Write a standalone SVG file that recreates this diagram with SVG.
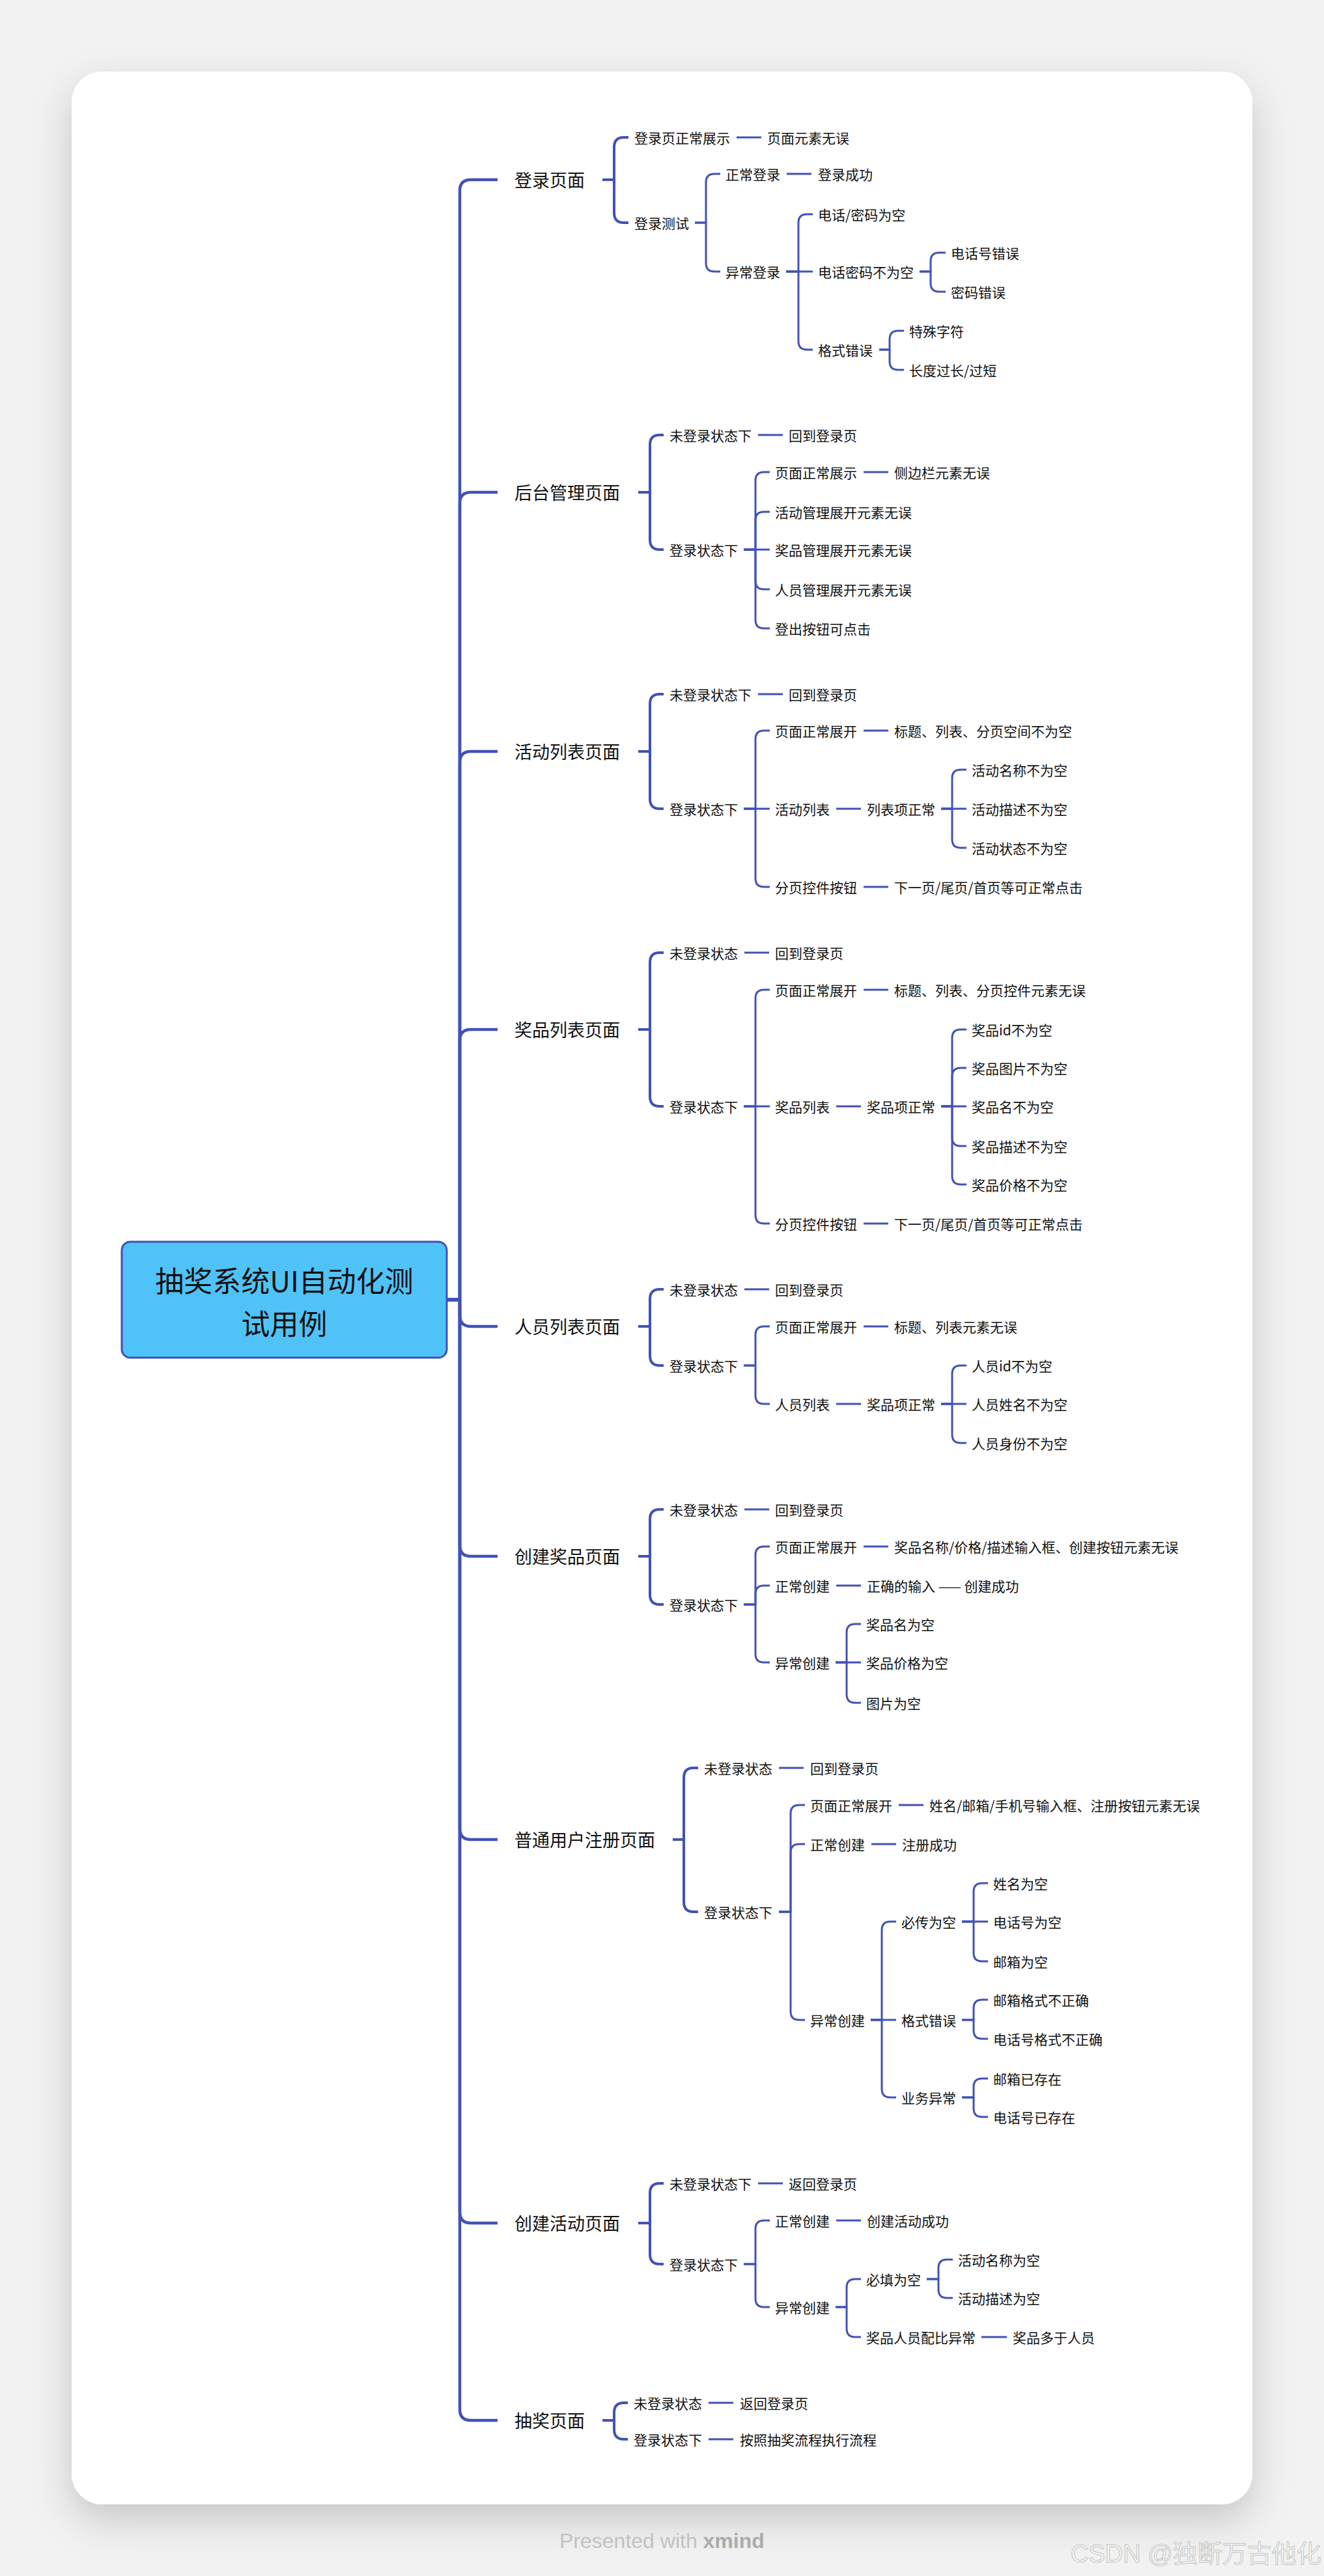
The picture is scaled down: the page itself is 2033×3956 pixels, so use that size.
<svg xmlns="http://www.w3.org/2000/svg" width="2033" height="3956" viewBox="0 0 2033 3956">
<defs>
<style>
.ln{fill:none;stroke:#4152b6;stroke-linejoin:round}
.c0{stroke-width:4.5}
.c1{stroke-width:4}
.c2{stroke-width:3}
text{font-family:"Noto Sans CJK SC","Noto Sans",sans-serif;fill:#111}
.l1{font-size:27px}
.t{font-size:21px}
.root{font-size:44px}
.pw{font-family:"Liberation Sans",Arial,sans-serif;font-size:32px;fill:#c2c2c2}
.xm{font-weight:bold;fill:#ababab}
.wm{font-family:"Liberation Sans","Noto Sans CJK SC",sans-serif;font-size:38px;fill:#f7f7f7;stroke:#c4c4c4;stroke-width:1}
</style>
<filter id="sh" x="-10%" y="-5%" width="120%" height="110%">
<feDropShadow dx="0" dy="24" stdDeviation="30" flood-color="#000" flood-opacity="0.18"/>
</filter>
</defs>
<rect x="0" y="0" width="2033" height="3956" fill="#f2f2f2"/>
<rect x="110" y="110" width="1813" height="3736" rx="47" fill="#ffffff" filter="url(#sh)"/>

<g id="connectors" class="ln">
<g class="c0">
<path d="M686 1996H706V293Q706 276 723 276H764"/>
<path d="M686 1996H706V773Q706 756 723 756H764"/>
<path d="M686 1996H706V1171Q706 1154 723 1154H764"/>
<path d="M686 1996H706V1598Q706 1581 723 1581H764"/>
<path d="M686 1996H706V2020Q706 2037 723 2037H764"/>
<path d="M686 1996H706V2373Q706 2390 723 2390H764"/>
<path d="M686 1996H706V2808Q706 2825 723 2825H764"/>
<path d="M686 1996H706V3397Q706 3414 723 3414H764"/>
<path d="M686 1996H706V3700Q706 3717 723 3717H764"/>
</g>
<g class="c1">
<path d="M925 276H943V226Q943 211 958 211H965"/>
<path d="M925 276H943V327Q943 342 958 342H965"/>
<path d="M980 756H998V683Q998 668 1013 668H1019"/>
<path d="M980 756H998V829Q998 844 1013 844H1019"/>
<path d="M980 1154H998V1081Q998 1066 1013 1066H1019"/>
<path d="M980 1154H998V1227Q998 1242 1013 1242H1019"/>
<path d="M980 1581H998V1478Q998 1463 1013 1463H1019"/>
<path d="M980 1581H998V1684Q998 1699 1013 1699H1019"/>
<path d="M980 2037H998V1995Q998 1980 1013 1980H1019"/>
<path d="M980 2037H998V2082Q998 2097 1013 2097H1019"/>
<path d="M980 2390H998V2333Q998 2318 1013 2318H1019"/>
<path d="M980 2390H998V2449Q998 2464 1013 2464H1019"/>
<path d="M1033 2825H1050V2730Q1050 2715 1065 2715H1072"/>
<path d="M1033 2825H1050V2921Q1050 2936 1065 2936H1072"/>
<path d="M980 3414H998V3368Q998 3353 1013 3353H1019"/>
<path d="M980 3414H998V3462Q998 3477 1013 3477H1019"/>
<path d="M925 3717H943V3705Q943 3690 958 3690H964"/>
<path d="M925 3717H943V3731Q943 3746 958 3746H964"/>
</g>
<g class="c2">
<path d="M1131 211H1169"/>
<path d="M1067 342H1084V280Q1084 267 1097 267H1106"/>
<path d="M1067 342H1084V404Q1084 417 1097 417H1106"/>
<path d="M1208 267H1246"/>
<path d="M1207 417H1226V342Q1226 329 1239 329H1248"/>
<path d="M1207 417H1248"/>
<path d="M1207 417H1226V524Q1226 537 1239 537H1248"/>
<path d="M1412 417H1429V401Q1429 388 1442 388H1452"/>
<path d="M1412 417H1429V435Q1429 448 1442 448H1452"/>
<path d="M1350 537H1366V521Q1366 508 1379 508H1388"/>
<path d="M1350 537H1366V555Q1366 568 1379 568H1388"/>

<path d="M1164 668H1202"/>
<path d="M1142 844H1160V738Q1160 725 1173 725H1182"/>
<path d="M1142 844H1160V799Q1160 786 1173 786H1182"/>
<path d="M1142 844H1182"/>
<path d="M1142 844H1160V892Q1160 905 1173 905H1182"/>
<path d="M1142 844H1160V952Q1160 965 1173 965H1182"/>
<path d="M1326 725H1364"/>

<path d="M1164 1066H1202"/>
<path d="M1142 1242H1160V1135Q1160 1122 1173 1122H1182"/>
<path d="M1142 1242H1182"/>
<path d="M1142 1242H1160V1349Q1160 1362 1173 1362H1182"/>
<path d="M1326 1122H1364"/>
<path d="M1284 1242H1322"/>
<path d="M1445 1242H1462V1195Q1462 1182 1475 1182H1484"/>
<path d="M1445 1242H1484"/>
<path d="M1445 1242H1462V1289Q1462 1302 1475 1302H1484"/>
<path d="M1326 1362H1364"/>

<path d="M1143 1463H1181"/>
<path d="M1142 1699H1160V1533Q1160 1520 1173 1520H1182"/>
<path d="M1142 1699H1182"/>
<path d="M1142 1699H1160V1866Q1160 1879 1173 1879H1182"/>
<path d="M1326 1520H1364"/>
<path d="M1284 1699H1322"/>
<path d="M1326 1879H1364"/>
<path d="M1445 1699H1462V1594Q1462 1581 1475 1581H1484"/>
<path d="M1445 1699H1462V1653Q1462 1640 1475 1640H1484"/>
<path d="M1445 1699H1484"/>
<path d="M1445 1699H1462V1747Q1462 1760 1475 1760H1484"/>
<path d="M1445 1699H1462V1806Q1462 1819 1475 1819H1484"/>

<path d="M1143 1980H1181"/>
<path d="M1142 2097H1160V2050Q1160 2037 1173 2037H1182"/>
<path d="M1142 2097H1160V2143Q1160 2156 1173 2156H1182"/>
<path d="M1326 2037H1364"/>
<path d="M1284 2156H1322"/>
<path d="M1445 2156H1462V2110Q1462 2097 1475 2097H1484"/>
<path d="M1445 2156H1484"/>
<path d="M1445 2156H1462V2203Q1462 2216 1475 2216H1484"/>

<path d="M1143 2318H1181"/>
<path d="M1142 2464H1160V2388Q1160 2375 1173 2375H1182"/>
<path d="M1142 2464H1160V2448Q1160 2435 1173 2435H1182"/>
<path d="M1142 2464H1160V2540Q1160 2553 1173 2553H1182"/>
<path d="M1326 2375H1364"/>
<path d="M1284 2435H1322"/>
<path d="M1283 2553H1300V2507Q1300 2494 1313 2494H1322"/>
<path d="M1283 2553H1322"/>
<path d="M1283 2553H1300V2602Q1300 2615 1313 2615H1322"/>

<path d="M1196 2715H1234"/>
<path d="M1196 2936H1214V2785Q1214 2772 1227 2772H1236"/>
<path d="M1196 2936H1214V2845Q1214 2832 1227 2832H1236"/>
<path d="M1196 2936H1214V3089Q1214 3102 1227 3102H1236"/>
<path d="M1380 2772H1418"/>
<path d="M1338 2832H1376"/>
<path d="M1337 3102H1354V2964Q1354 2951 1367 2951H1376"/>
<path d="M1337 3102H1376"/>
<path d="M1337 3102H1354V3208Q1354 3221 1367 3221H1376"/>
<path d="M1477 2951H1495V2905Q1495 2892 1508 2892H1517"/>
<path d="M1477 2951H1517"/>
<path d="M1477 2951H1495V2999Q1495 3012 1508 3012H1517"/>
<path d="M1477 3102H1495V3084Q1495 3071 1508 3071H1517"/>
<path d="M1477 3102H1495V3118Q1495 3131 1508 3131H1517"/>
<path d="M1477 3221H1495V3205Q1495 3192 1508 3192H1517"/>
<path d="M1477 3221H1495V3238Q1495 3251 1508 3251H1517"/>

<path d="M1164 3353H1202"/>
<path d="M1142 3477H1160V3423Q1160 3410 1173 3410H1182"/>
<path d="M1142 3477H1160V3530Q1160 3543 1173 3543H1182"/>
<path d="M1284 3410H1322"/>
<path d="M1283 3543H1300V3513Q1300 3500 1313 3500H1322"/>
<path d="M1283 3543H1300V3576Q1300 3589 1313 3589H1322"/>
<path d="M1423 3500H1441V3483Q1441 3470 1454 3470H1463"/>
<path d="M1423 3500H1441V3516Q1441 3529 1454 3529H1463"/>
<path d="M1507 3589H1546"/>

<path d="M1088 3690H1126"/>
<path d="M1088 3746H1126"/>
</g>
</g>

<g id="root">
<rect x="187" y="1907" width="499" height="178" rx="13" fill="#4fc3f7" stroke="#3f51b5" stroke-width="3"/>
<text class="root" x="436.5" y="1984" text-anchor="middle">抽奖系统UI自动化测</text>
<text class="root" x="436.5" y="2050" text-anchor="middle">试用例</text>
</g>

<g id="n1"><text class="l1" x="790" y="287">登录页面</text></g>
<g id="n1-1"><text class="t" x="974" y="220">登录页正常展示</text></g>
<g id="n1-1-1"><text class="t" x="1178" y="220">页面元素无误</text></g>
<g id="n1-2"><text class="t" x="974" y="351">登录测试</text></g>
<g id="n1-2-1"><text class="t" x="1114" y="276">正常登录</text></g>
<g id="n1-2-1-1"><text class="t" x="1256" y="276">登录成功</text></g>
<g id="n1-2-2"><text class="t" x="1114" y="426">异常登录</text></g>
<g id="n1-2-2-1"><text class="t" x="1256" y="338">电话/密码为空</text></g>
<g id="n1-2-2-2"><text class="t" x="1256" y="426">电话密码不为空</text></g>
<g id="n1-2-2-2-1"><text class="t" x="1460" y="397">电话号错误</text></g>
<g id="n1-2-2-2-2"><text class="t" x="1460" y="457">密码错误</text></g>
<g id="n1-2-2-3"><text class="t" x="1256" y="546">格式错误</text></g>
<g id="n1-2-2-3-1"><text class="t" x="1396" y="517">特殊字符</text></g>
<g id="n1-2-2-3-2"><text class="t" x="1396" y="577">长度过长/过短</text></g>

<g id="n2"><text class="l1" x="790" y="767">后台管理页面</text></g>
<g id="n2-1"><text class="t" x="1028" y="677">未登录状态下</text></g>
<g id="n2-1-1"><text class="t" x="1211" y="677">回到登录页</text></g>
<g id="n2-2"><text class="t" x="1028" y="853">登录状态下</text></g>
<g id="n2-2-1"><text class="t" x="1190" y="734">页面正常展示</text></g>
<g id="n2-2-1-1"><text class="t" x="1373" y="734">侧边栏元素无误</text></g>
<g id="n2-2-2"><text class="t" x="1190" y="795">活动管理展开元素无误</text></g>
<g id="n2-2-3"><text class="t" x="1190" y="853">奖品管理展开元素无误</text></g>
<g id="n2-2-4"><text class="t" x="1190" y="914">人员管理展开元素无误</text></g>
<g id="n2-2-5"><text class="t" x="1190" y="974">登出按钮可点击</text></g>

<g id="n3"><text class="l1" x="790" y="1165">活动列表页面</text></g>
<g id="n3-1"><text class="t" x="1028" y="1075">未登录状态下</text></g>
<g id="n3-1-1"><text class="t" x="1211" y="1075">回到登录页</text></g>
<g id="n3-2"><text class="t" x="1028" y="1251">登录状态下</text></g>
<g id="n3-2-1"><text class="t" x="1190" y="1131">页面正常展开</text></g>
<g id="n3-2-1-1"><text class="t" x="1373" y="1131">标题、列表、分页空间不为空</text></g>
<g id="n3-2-2"><text class="t" x="1190" y="1251">活动列表</text></g>
<g id="n3-2-2-1"><text class="t" x="1331" y="1251">列表项正常</text></g>
<g id="n3-2-2-1-1"><text class="t" x="1492" y="1191">活动名称不为空</text></g>
<g id="n3-2-2-1-2"><text class="t" x="1492" y="1251">活动描述不为空</text></g>
<g id="n3-2-2-1-3"><text class="t" x="1492" y="1311">活动状态不为空</text></g>
<g id="n3-2-3"><text class="t" x="1190" y="1371">分页控件按钮</text></g>
<g id="n3-2-3-1"><text class="t" x="1373" y="1371">下一页/尾页/首页等可正常点击</text></g>

<g id="n4"><text class="l1" x="790" y="1592">奖品列表页面</text></g>
<g id="n4-1"><text class="t" x="1028" y="1472">未登录状态</text></g>
<g id="n4-1-1"><text class="t" x="1190" y="1472">回到登录页</text></g>
<g id="n4-2"><text class="t" x="1028" y="1708">登录状态下</text></g>
<g id="n4-2-1"><text class="t" x="1190" y="1529">页面正常展开</text></g>
<g id="n4-2-1-1"><text class="t" x="1373" y="1529">标题、列表、分页控件元素无误</text></g>
<g id="n4-2-2"><text class="t" x="1190" y="1708">奖品列表</text></g>
<g id="n4-2-2-1"><text class="t" x="1331" y="1708">奖品项正常</text></g>
<g id="n4-2-2-1-1"><text class="t" x="1492" y="1590">奖品id不为空</text></g>
<g id="n4-2-2-1-2"><text class="t" x="1492" y="1649">奖品图片不为空</text></g>
<g id="n4-2-2-1-3"><text class="t" x="1492" y="1708">奖品名不为空</text></g>
<g id="n4-2-2-1-4"><text class="t" x="1492" y="1769">奖品描述不为空</text></g>
<g id="n4-2-2-1-5"><text class="t" x="1492" y="1828">奖品价格不为空</text></g>
<g id="n4-2-3"><text class="t" x="1190" y="1888">分页控件按钮</text></g>
<g id="n4-2-3-1"><text class="t" x="1373" y="1888">下一页/尾页/首页等可正常点击</text></g>

<g id="n5"><text class="l1" x="790" y="2048">人员列表页面</text></g>
<g id="n5-1"><text class="t" x="1028" y="1989">未登录状态</text></g>
<g id="n5-1-1"><text class="t" x="1190" y="1989">回到登录页</text></g>
<g id="n5-2"><text class="t" x="1028" y="2106">登录状态下</text></g>
<g id="n5-2-1"><text class="t" x="1190" y="2046">页面正常展开</text></g>
<g id="n5-2-1-1"><text class="t" x="1373" y="2046">标题、列表元素无误</text></g>
<g id="n5-2-2"><text class="t" x="1190" y="2165">人员列表</text></g>
<g id="n5-2-2-1"><text class="t" x="1331" y="2165">奖品项正常</text></g>
<g id="n5-2-2-1-1"><text class="t" x="1492" y="2106">人员id不为空</text></g>
<g id="n5-2-2-1-2"><text class="t" x="1492" y="2165">人员姓名不为空</text></g>
<g id="n5-2-2-1-3"><text class="t" x="1492" y="2225">人员身份不为空</text></g>

<g id="n6"><text class="l1" x="790" y="2401">创建奖品页面</text></g>
<g id="n6-1"><text class="t" x="1028" y="2327">未登录状态</text></g>
<g id="n6-1-1"><text class="t" x="1190" y="2327">回到登录页</text></g>
<g id="n6-2"><text class="t" x="1028" y="2473">登录状态下</text></g>
<g id="n6-2-1"><text class="t" x="1190" y="2384">页面正常展开</text></g>
<g id="n6-2-1-1"><text class="t" x="1373" y="2384">奖品名称/价格/描述输入框、创建按钮元素无误</text></g>
<g id="n6-2-2"><text class="t" x="1190" y="2444">正常创建</text></g>
<g id="n6-2-2-1"><text class="t" x="1331" y="2444">正确的输入 —— 创建成功</text></g>
<g id="n6-2-3"><text class="t" x="1190" y="2562">异常创建</text></g>
<g id="n6-2-3-1"><text class="t" x="1330" y="2503">奖品名为空</text></g>
<g id="n6-2-3-2"><text class="t" x="1330" y="2562">奖品价格为空</text></g>
<g id="n6-2-3-3"><text class="t" x="1330" y="2624">图片为空</text></g>

<g id="n7"><text class="l1" x="790" y="2836">普通用户注册页面</text></g>
<g id="n7-1"><text class="t" x="1081" y="2724">未登录状态</text></g>
<g id="n7-1-1"><text class="t" x="1244" y="2724">回到登录页</text></g>
<g id="n7-2"><text class="t" x="1081" y="2945">登录状态下</text></g>
<g id="n7-2-1"><text class="t" x="1244" y="2781">页面正常展开</text></g>
<g id="n7-2-1-1"><text class="t" x="1427" y="2781">姓名/邮箱/手机号输入框、注册按钮元素无误</text></g>
<g id="n7-2-2"><text class="t" x="1244" y="2841">正常创建</text></g>
<g id="n7-2-2-1"><text class="t" x="1385" y="2841">注册成功</text></g>
<g id="n7-2-3"><text class="t" x="1244" y="3111">异常创建</text></g>
<g id="n7-2-3-1"><text class="t" x="1384" y="2960">必传为空</text></g>
<g id="n7-2-3-1-1"><text class="t" x="1525" y="2901">姓名为空</text></g>
<g id="n7-2-3-1-2"><text class="t" x="1525" y="2960">电话号为空</text></g>
<g id="n7-2-3-1-3"><text class="t" x="1525" y="3021">邮箱为空</text></g>
<g id="n7-2-3-2"><text class="t" x="1384" y="3111">格式错误</text></g>
<g id="n7-2-3-2-1"><text class="t" x="1525" y="3080">邮箱格式不正确</text></g>
<g id="n7-2-3-2-2"><text class="t" x="1525" y="3140">电话号格式不正确</text></g>
<g id="n7-2-3-3"><text class="t" x="1384" y="3230">业务异常</text></g>
<g id="n7-2-3-3-1"><text class="t" x="1525" y="3201">邮箱已存在</text></g>
<g id="n7-2-3-3-2"><text class="t" x="1525" y="3260">电话号已存在</text></g>

<g id="n8"><text class="l1" x="790" y="3425">创建活动页面</text></g>
<g id="n8-1"><text class="t" x="1028" y="3362">未登录状态下</text></g>
<g id="n8-1-1"><text class="t" x="1211" y="3362">返回登录页</text></g>
<g id="n8-2"><text class="t" x="1028" y="3486">登录状态下</text></g>
<g id="n8-2-1"><text class="t" x="1190" y="3419">正常创建</text></g>
<g id="n8-2-1-1"><text class="t" x="1331" y="3419">创建活动成功</text></g>
<g id="n8-2-2"><text class="t" x="1190" y="3552">异常创建</text></g>
<g id="n8-2-2-1"><text class="t" x="1330" y="3509">必填为空</text></g>
<g id="n8-2-2-1-1"><text class="t" x="1471" y="3479">活动名称为空</text></g>
<g id="n8-2-2-1-2"><text class="t" x="1471" y="3538">活动描述为空</text></g>
<g id="n8-2-2-2"><text class="t" x="1330" y="3598">奖品人员配比异常</text></g>
<g id="n8-2-2-2-1"><text class="t" x="1555" y="3598">奖品多于人员</text></g>

<g id="n9"><text class="l1" x="790" y="3728">抽奖页面</text></g>
<g id="n9-1"><text class="t" x="973" y="3699">未登录状态</text></g>
<g id="n9-1-1"><text class="t" x="1136" y="3699">返回登录页</text></g>
<g id="n9-2"><text class="t" x="973" y="3755">登录状态下</text></g>
<g id="n9-2-1"><text class="t" x="1136" y="3755">按照抽奖流程执行流程</text></g>

<g id="footer">
<text class="pw" x="859" y="3913">Presented with <tspan class="xm">xmind</tspan></text>
<text class="wm" x="1644" y="3935">CSDN @独断万古他化</text>
</g>
</svg>
